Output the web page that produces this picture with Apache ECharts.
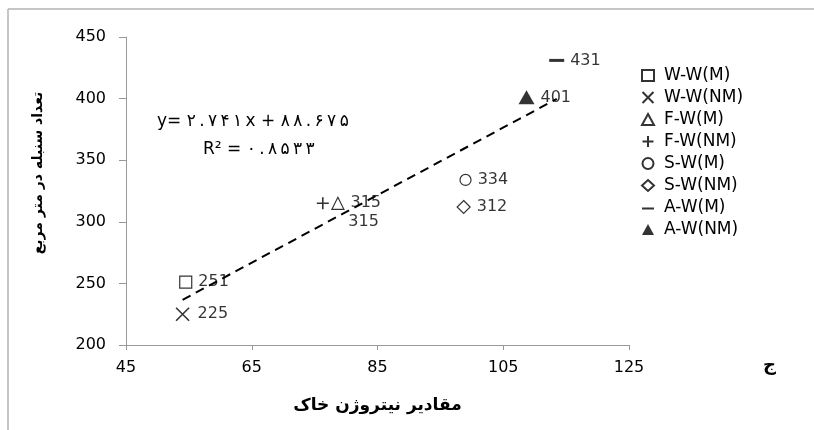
<!DOCTYPE html>
<html>
<head>
<meta charset="utf-8">
<script src="https://cdn.jsdelivr.net/npm/echarts@6/dist/echarts.min.js"></script>
<style>
  html, body { margin: 0; padding: 0; background: #fff; }
  #chart { width: 814px; height: 430px; }
</style>
</head>
<body>
<div id="chart"></div>
<script>
  // treatments
  var seriesNames = ['W-W(M)', 'W-W(NM)', 'F-W(M)', 'F-W(NM)', 'S-W(M)', 'S-W(NM)', 'A-W(M)', 'A-W(NM)']
  // soil nitrogen (x) and spikes per m2 (y)
  var nitrogen = [54.5, 54, 78.7, 76.3, 99, 98.7, 113.5, 108.7]
  var spikes = [251, 225, 315, 315, 334, 312, 431, 401]
  // trend line from the equation on the chart
  var trendSlope = 2.741
  var trendIntercept = 88.675
  var xTicks = [45, 65, 85, 105, 125]
  var yTicks = [200, 250, 300, 350, 400, 450]

  var black = '#000'
  var thin = '\u2009'
  var markerStyles = [
    { symbol: 'rect', size: 12, fill: '#fff' },
    { symbol: 'path://M0,0L10,10M10,0L0,10', size: 13, fill: 'none', bw: 1.6 },
    { symbol: 'triangle', size: 12, fill: '#fff' },
    { symbol: 'path://M5,0L5,10M0,5L10,5', size: 12, fill: 'none', bw: 1.6 },
    { symbol: 'circle', size: 11, fill: '#fff' },
    { symbol: 'diamond', size: [13, 13], fill: '#fff' },
    { symbol: 'rect', size: [15, 3], fill: black, legendIcon: 'path://M0,-5M0,5M0,0h12v2h-12z' },
    { symbol: 'triangle', size: [16, 14], fill: black }
  ]

  var chart = echarts.init(document.getElementById('chart'))

  var series = seriesNames.map(function (name, i) {
    var st = markerStyles[i]
    var label = {
      show: true,
      position: 'right',
      distance: 6,
      color: black,
      fontFamily: 'DejaVu Sans',
      fontSize: 16,
      formatter: function (p) { return p.value[1] }
    }
    if (name === 'F-W(NM)') {
      label.offset = [11, 19]
    }
    return {
      name: name,
      type: 'scatter',
      symbol: st.symbol,
      symbolSize: st.size,
      itemStyle: {
        color: st.fill,
        borderColor: black,
        borderWidth: st.bw || (st.fill === black ? 0 : 1.2)
      },
      label: label,
      emphasis: { disabled: true },
      z: 3,
      data: [[nitrogen[i], spikes[i]]]
    }
  })

  var xMin = Math.min.apply(null, nitrogen)
  var xMax = Math.max.apply(null, nitrogen)
  series.push({
    name: 'trend',
    type: 'line',
    symbol: 'none',
    silent: true,
    lineStyle: { color: black, width: 2, type: [9, 6] },
    z: 2,
    data: [
      [xMin, trendSlope * xMin + trendIntercept],
      [xMax, trendSlope * xMax + trendIntercept]
    ]
  })

  var legendData = seriesNames.map(function (name, i) {
    var d = { name: name }
    if (markerStyles[i].legendIcon) d.icon = markerStyles[i].legendIcon
    return d
  })

  // persian digits, spaced a little like the original
  function spaced(s) { return s.split('').join(thin) }

  chart.setOption({
    animation: false,
    backgroundColor: '#fff',
    grid: { left: 126, right: 185, top: 37, bottom: 85 },
    legend: {
      data: legendData,
      orient: 'vertical',
      left: 635,
      top: 62,
      itemWidth: 12,
      itemHeight: 11,
      itemGap: 5,
      selectedMode: false,
      textStyle: { color: black, fontFamily: 'DejaVu Sans', fontSize: 17, padding: [0, 0, 0, 5] }
    },
    xAxis: {
      type: 'value',
      min: xTicks[0],
      max: xTicks[xTicks.length - 1],
      interval: xTicks[1] - xTicks[0],
      name: 'مقادیر نیتروژن خاک',
      nameLocation: 'middle',
      nameGap: 52,
      nameTextStyle: { color: black, fontFamily: 'DejaVu Sans', fontWeight: 'bold', fontSize: 17 },
      axisLine: { lineStyle: { color: '#999', width: 1 } },
      axisTick: { length: 5, lineStyle: { color: '#999' } },
      axisLabel: { color: black, fontFamily: 'DejaVu Sans', fontSize: 16, margin: 15 },
      splitLine: { show: false }
    },
    yAxis: {
      type: 'value',
      min: yTicks[0],
      max: yTicks[yTicks.length - 1],
      interval: yTicks[1] - yTicks[0],
      name: 'تعداد سنبله در متر مربع',
      nameLocation: 'middle',
      nameRotate: 90,
      nameGap: 81,
      nameTextStyle: {
        color: black, fontFamily: 'DejaVu Sans', fontWeight: 'bold', fontSize: 14,
        padding: [0, 0, 0, 36]
      },
      axisLine: { show: true, lineStyle: { color: '#999', width: 1 } },
      axisTick: { show: true, length: 7, lineStyle: { color: '#999' } },
      axisLabel: { color: black, fontFamily: 'DejaVu Sans', fontSize: 16, margin: 20 },
      splitLine: { show: false }
    },
    graphic: [
      { type: 'line', shape: { x1: 8, y1: 9, x2: 814, y2: 9 }, style: { stroke: '#b3b3b3', lineWidth: 1.5 } },
      { type: 'line', shape: { x1: 8, y1: 9, x2: 8, y2: 430 }, style: { stroke: '#b3b3b3', lineWidth: 1.5 } },
      {
        type: 'text', left: 157, top: 113,
        style: { text: 'y= ' + spaced('۲.۷۴۱') + thin + 'x + ' + spaced('۸۸.۶۷۵'), font: '17px "DejaVu Sans"', fill: black }
      },
      {
        type: 'text', left: 203, top: 141,
        style: { text: 'R² = ' + spaced('۰.۸۵۳۳'), font: '17px "DejaVu Sans"', fill: black }
      },
      {
        type: 'text', left: 763, top: 356,
        style: { text: 'ج', font: 'bold 18px "DejaVu Sans"', fill: black }
      }
    ],
    series: series
  })
</script>
</body>
</html>
